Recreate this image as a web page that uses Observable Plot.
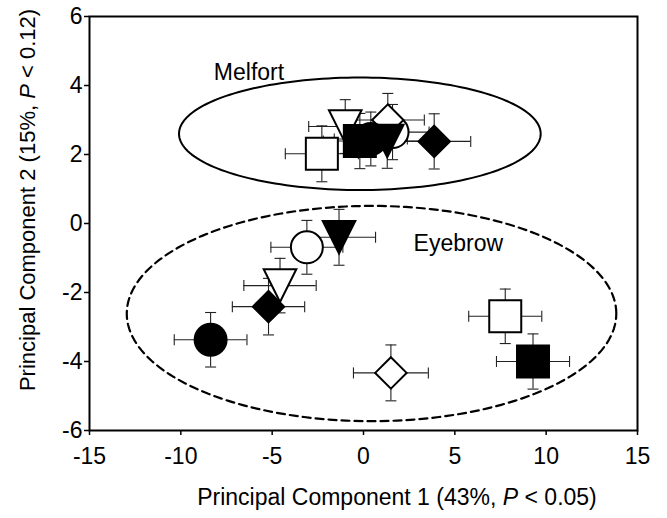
<!DOCTYPE html>
<html>
<head>
<meta charset="utf-8">
<script src="https://cdn.jsdelivr.net/npm/d3@7"></script>
<script src="https://cdn.jsdelivr.net/npm/@observablehq/plot@0.6"></script>
<style>
  html, body { margin: 0; padding: 0; background: white; }
  #chart { width: 667px; height: 518px; }
</style>
</head>
<body>
<div id="chart"></div>
<script>
// ---- data ----
const sites   = ["Melfort","Melfort","Melfort","Melfort","Melfort","Melfort","Melfort","Melfort",
                 "Eyebrow","Eyebrow","Eyebrow","Eyebrow","Eyebrow","Eyebrow","Eyebrow","Eyebrow"];
const shapes  = ["circle","circle","triangle","triangle","diamond","diamond","square","square",
                 "circle","circle","triangle","triangle","diamond","diamond","square","square"];
const fills   = ["white","black","white","black","white","black","white","black",
                 "white","black","white","black","white","black","white","black"];
const pc1     = [1.59, 0.4, -1.0, 1.3, 1.33, 3.87, -2.28, -0.2,
                 -3.1, -8.37, -4.57, -1.34, 1.5, -5.2, 7.76, 9.28];
const pc2     = [2.65, 2.45, 2.81, 2.39, 3.0, 2.38, 2.02, 2.39,
                 -0.69, -3.37, -1.8, -0.4, -4.33, -2.41, -2.69, -4.0];
const pc1Err  = [2.0, 2.0, 2.0, 2.0, 2.0, 2.0, 2.0, 2.0,
                 1.97, 1.99, 1.98, 2.0, 2.05, 1.98, 2.0, 2.0];
const pc2Err  = [0.8, 0.78, 0.78, 0.79, 0.77, 0.8, 0.81, 0.8,
                 0.78, 0.79, 0.79, 0.81, 0.81, 0.82, 0.79, 0.8];

const xTicks = [-15, -10, -5, 0, 5, 10, 15];
const yTicks = [-6, -4, -2, 0, 2, 4, 6];

// group ellipses: centre and semi-axes (data units)
const ellipseSites = ["Melfort", "Eyebrow"];
const ellipseCx = [-0.2, 0.44];
const ellipseCy = [2.6, -2.61];
const ellipseRx = [9.9, 13.4];
const ellipseRy = [1.63, 3.12];
const ellipseDash = ["none", "8,5"];

const labelText = ["Melfort", "Eyebrow"];
const labelX = [-6.27, 5.19];
const labelY = [4.36, -0.59];

// ---- build tables ----
const points = pc1.map((x, i) => ({
  site: sites[i], shape: shapes[i], fill: fills[i],
  x, y: pc2[i], ex: pc1Err[i], ey: pc2Err[i]
}));

const ellipsePts = [];
ellipseSites.forEach((s, k) => {
  for (let a = 0; a <= 360; a += 2) {
    const t = a * Math.PI / 180;
    ellipsePts.push({site: s,
      x: ellipseCx[k] + ellipseRx[k] * Math.cos(t),
      y: ellipseCy[k] + ellipseRy[k] * Math.sin(t)});
  }
});
const labels = labelText.map((t, i) => ({t, x: labelX[i], y: labelY[i]}));

// ---- custom symbols (r = half extent) ----
const half = s => Math.sqrt(s / Math.PI);
const symbols = {
  circle:   {draw(c, s) { const r = half(s); c.moveTo(r, 0); c.arc(0, 0, r, 0, 2 * Math.PI); c.closePath(); }},
  square:   {draw(c, s) { const r = half(s); c.moveTo(-r, -r); c.lineTo(r, -r); c.lineTo(r, r); c.lineTo(-r, r); c.closePath(); }},
  diamond:  {draw(c, s) { const r = half(s); c.moveTo(0, -r); c.lineTo(r, 0); c.lineTo(0, r); c.lineTo(-r, 0); c.closePath(); }},
  triangle: {draw(c, s) { const r = half(s); c.moveTo(-r, -r); c.lineTo(r, -r); c.lineTo(0, r); c.closePath(); }}
};
const sizes = {circle: 16, square: 16, diamond: 15.7, triangle: 16.3};
const vCap = {draw(c, s) { const r = half(s); c.moveTo(0, -r); c.lineTo(0, r); }};
const hCap = {draw(c, s) { const r = half(s); c.moveTo(-r, 0); c.lineTo(r, 0); }};

const symbolMarks = [];
["white", "black"].forEach(f => {
  ["circle", "diamond", "triangle", "square"].forEach(sh => {
    symbolMarks.push(Plot.dot(points.filter(d => d.fill === f && d.shape === sh), {
      x: "x", y: "y", symbol: symbols[sh], r: sizes[sh],
      fill: f, stroke: "black", strokeWidth: 2
    }));
  });
});

const font = "'Liberation Sans', Arial, Helvetica, sans-serif";

const svg = Plot.plot({
  width: 667, height: 518,
  marginLeft: 89, marginRight: 30, marginTop: 16, marginBottom: 88,
  style: {fontFamily: font, fontSize: "23px", background: "white", color: "black", overflow: "visible"},
  x: {domain: [-15, 15]},
  y: {domain: [-6, 6]},
  marks: [
    Plot.line(ellipsePts.filter(d => d.site === "Melfort"), {x: "x", y: "y", stroke: "black", strokeWidth: 2}),
    Plot.line(ellipsePts.filter(d => d.site === "Eyebrow"), {x: "x", y: "y", stroke: "black", strokeWidth: 2.2, strokeDasharray: ellipseDash[1]}),
    Plot.ruleY(points, {y: "y", x1: d => d.x - d.ex, x2: d => d.x + d.ex, stroke: "#222", strokeWidth: 1.1}),
    Plot.ruleX(points, {x: "x", y1: d => d.y - d.ey, y2: d => d.y + d.ey, stroke: "#222", strokeWidth: 1.1}),
    Plot.dot(points, {x: d => d.x - d.ex, y: "y", symbol: vCap, r: 5.5, fill: "none", stroke: "#222", strokeWidth: 1.1}),
    Plot.dot(points, {x: d => d.x + d.ex, y: "y", symbol: vCap, r: 5.5, fill: "none", stroke: "#222", strokeWidth: 1.1}),
    Plot.dot(points, {x: "x", y: d => d.y - d.ey, symbol: hCap, r: 5.5, fill: "none", stroke: "#222", strokeWidth: 1.1}),
    Plot.dot(points, {x: "x", y: d => d.y + d.ey, symbol: hCap, r: 5.5, fill: "none", stroke: "#222", strokeWidth: 1.1}),
    ...symbolMarks,
    Plot.text(labels, {x: "x", y: "y", text: "t", fill: "black", fontSize: 23, textAnchor: "middle", lineAnchor: "middle"}),
    Plot.frame({stroke: "black", strokeWidth: 2}),
    Plot.axisX({ticks: xTicks, tickFormat: d => String(d), tickSize: 5, tickPadding: 12, strokeWidth: 1.5, label: null, fontSize: 23}),
    Plot.axisY({ticks: yTicks, tickFormat: d => String(d), tickSize: 5, tickPadding: 2, strokeWidth: 1.5, label: null, fontSize: 23})
  ]
});

document.getElementById("chart").appendChild(svg);

// axis titles with italic P
const s = d3.select(svg);
const xt = s.append("text")
  .attr("x", 397).attr("y", 505)
  .attr("text-anchor", "middle")
  .style("font-family", font).style("font-size", "23px").attr("fill", "black");
xt.append("tspan").text("Principal Component 1 (43%, ");
xt.append("tspan").attr("font-style", "italic").text("P");
xt.append("tspan").text(" < 0.05)");

const yt = s.append("text")
  .attr("transform", "translate(35,200) rotate(-90)")
  .attr("text-anchor", "middle")
  .style("font-family", font).style("font-size", "22px").attr("fill", "black");
yt.append("tspan").text("Principal Component 2 (15%, ");
yt.append("tspan").attr("font-style", "italic").text("P");
yt.append("tspan").text(" < 0.12)");
</script>
</body>
</html>
